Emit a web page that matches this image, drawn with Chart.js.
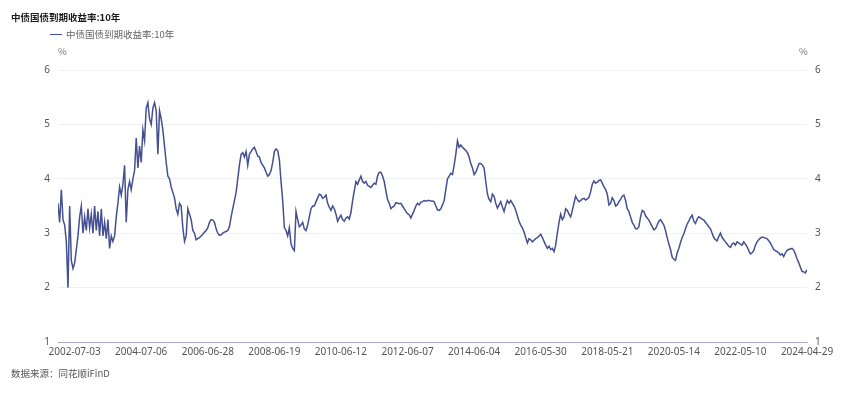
<!DOCTYPE html>
<html>
<head>
<meta charset="utf-8">
<script src="https://cdn.jsdelivr.net/npm/chart.js@4.4.1/dist/chart.umd.min.js"></script>
<style>
  html, body { margin: 0; padding: 0; background: #ffffff; }
  #wrap { position: relative; width: 865px; height: 393px; overflow: hidden; }
  #c { position: absolute; left: 0; top: 0; }
  .txt { position: absolute; white-space: nowrap; font-family: "Noto Sans CJK SC", "Noto Sans", sans-serif; line-height: 12px; }
  #title { left: 11px; top: 11px; font-size: 9.5px; font-weight: bold; color: #1a1a1a; }
  #legend { left: 50px; top: 28px; font-size: 9.5px; color: #666; }
  #legend .mk { display: inline-block; width: 12px; height: 0; border-top: 1.3px solid #44508f; vertical-align: middle; margin-right: 4px; position: relative; top: -1px; }
  #unitL { left: 58px; top: 45px; font-size: 9.5px; color: #777; }
  #unitR { left: 799px; top: 45px; font-size: 9.5px; color: #777; }
  #source { left: 11px; top: 367px; font-size: 9.5px; color: #555; }
</style>
</head>
<body>
<div id="wrap">
  <canvas id="c" width="865" height="393"></canvas>
  <div class="txt" id="title">中债国债到期收益率:10年</div>
  <div class="txt" id="legend"><span class="mk"></span>中债国债到期收益率:10年</div>
  <div class="txt" id="unitL">%</div>
  <div class="txt" id="unitR">%</div>
  <div class="txt" id="source">数据来源：同花顺iFinD</div>
</div>
<script>
// Tick dates shown on the x axis, and the sample index each one falls on
const tickLabels = ['2002-07-03','2004-07-06','2006-06-28','2008-06-19','2010-06-12','2012-06-07',
                    '2014-06-04','2016-05-30','2018-05-21','2020-05-14','2022-05-10','2024-04-29'];
const tickIndex = [10, 50, 90, 130, 170, 210, 250, 290, 330, 370, 410, 450];

// 10-year China government bond yield (%), evenly spaced samples
const yields = [
  3.55,3.20,3.80,3.25,3.15,2.85,2.00,3.50,2.50,2.35,
  2.45,2.70,2.95,3.30,3.50,3.00,3.30,3.05,3.45,3.10,
  3.35,3.00,3.50,3.05,3.40,2.95,3.45,2.95,3.20,2.90,
  3.25,2.72,2.95,2.85,2.95,3.30,3.55,3.85,3.70,3.90,
  4.25,3.20,3.80,3.95,3.80,4.00,4.15,4.75,4.20,4.60,
  4.30,4.90,4.70,5.30,5.40,5.10,5.00,5.30,5.40,5.25,
  4.45,5.25,5.10,4.90,4.60,4.30,4.05,4.00,3.85,3.75,
  3.65,3.45,3.35,3.55,3.50,3.10,2.85,2.95,3.45,3.35,
  3.25,3.05,3.00,2.88,2.90,2.92,2.95,2.98,3.02,3.05,
  3.10,3.20,3.25,3.24,3.20,3.08,3.00,2.96,2.97,3.00,
  3.02,3.03,3.05,3.12,3.30,3.45,3.60,3.75,4.00,4.25,
  4.45,4.48,4.40,4.50,4.25,4.45,4.50,4.55,4.58,4.50,
  4.42,4.40,4.30,4.25,4.20,4.12,4.05,4.08,4.15,4.30,
  4.50,4.55,4.52,4.35,3.95,3.60,3.10,3.05,2.95,3.10,
  2.80,2.72,2.68,3.40,3.25,3.12,3.15,3.20,3.08,3.05,
  3.15,3.30,3.45,3.50,3.50,3.58,3.65,3.72,3.70,3.64,
  3.66,3.70,3.55,3.48,3.42,3.50,3.45,3.35,3.22,3.28,
  3.33,3.25,3.22,3.28,3.30,3.26,3.38,3.60,3.78,3.95,
  3.90,3.98,4.05,3.95,3.92,3.95,3.88,3.86,3.84,3.88,
  3.92,3.90,4.05,4.12,4.12,4.05,3.95,3.78,3.62,3.55,
  3.45,3.48,3.50,3.56,3.55,3.54,3.55,3.50,3.45,3.40,
  3.36,3.34,3.28,3.35,3.42,3.50,3.55,3.52,3.57,3.58,
  3.60,3.59,3.60,3.60,3.59,3.59,3.58,3.50,3.43,3.42,
  3.45,3.52,3.60,3.80,4.00,4.05,4.10,4.08,4.25,4.45,
  4.70,4.58,4.62,4.58,4.55,4.52,4.48,4.40,4.28,4.20,
  4.08,4.12,4.20,4.28,4.28,4.25,4.20,3.95,3.72,3.62,
  3.58,3.72,3.68,3.55,3.46,3.52,3.58,3.48,3.40,3.52,
  3.60,3.55,3.60,3.55,3.50,3.42,3.32,3.22,3.15,3.10,
  3.02,2.92,2.82,2.90,2.88,2.84,2.87,2.90,2.92,2.95,
  2.98,2.92,2.85,2.78,2.72,2.76,2.70,2.72,2.66,2.78,
  3.00,3.20,3.35,3.25,3.30,3.45,3.42,3.35,3.30,3.42,
  3.55,3.68,3.62,3.58,3.60,3.63,3.64,3.61,3.63,3.66,
  3.76,3.90,3.96,3.92,3.94,3.97,3.98,3.92,3.85,3.80,
  3.72,3.52,3.55,3.65,3.60,3.50,3.52,3.58,3.62,3.68,
  3.70,3.60,3.45,3.40,3.30,3.20,3.15,3.08,3.08,3.12,
  3.30,3.42,3.40,3.32,3.28,3.24,3.18,3.12,3.06,3.08,
  3.15,3.22,3.25,3.20,3.15,3.05,2.92,2.80,2.70,2.56,
  2.52,2.50,2.64,2.72,2.83,2.92,2.99,3.08,3.17,3.22,
  3.29,3.33,3.22,3.18,3.26,3.30,3.28,3.26,3.24,3.20,
  3.16,3.12,3.08,3.00,2.92,2.88,2.86,2.94,3.00,2.92,
  2.88,2.84,2.80,2.76,2.74,2.80,2.82,2.78,2.84,2.82,
  2.80,2.78,2.84,2.80,2.75,2.68,2.62,2.64,2.68,2.78,
  2.84,2.88,2.91,2.93,2.92,2.91,2.90,2.86,2.82,2.76,
  2.70,2.68,2.66,2.64,2.60,2.62,2.57,2.64,2.68,2.70,
  2.71,2.72,2.69,2.62,2.53,2.46,2.38,2.30,2.29,2.27,
  2.33
];

const yMin = 1, yMax = 6;

const labelByIndex = {};
tickIndex.forEach((v, k) => { labelByIndex[v] = tickLabels[k]; });

const points = yields.map((v, i) => ({ x: i, y: v }));

const tickFont = { family: '"Noto Sans", "Noto Sans CJK SC", sans-serif', size: 10 };
const tickColor = '#555';

new Chart(document.getElementById('c'), {
  type: 'line',
  data: {
    datasets: [{
      label: '中债国债到期收益率:10年',
      data: points,
      borderColor: '#44508f',
      borderWidth: 1.5,
      pointRadius: 0,
      pointHoverRadius: 0,
      tension: 0,
      fill: false,
      yAxisID: 'y'
    }]
  },
  options: {
    responsive: false,
    animation: false,
    devicePixelRatio: 1,
    layout: { padding: { top: 70, bottom: 29, left: 0, right: 0 } },
    plugins: { legend: { display: false }, title: { display: false }, tooltip: { enabled: false } },
    scales: {
      x: {
        type: 'linear',
        min: 0,
        max: yields.length - 1,
        grid: { display: false, drawTicks: false },
        border: { display: true, color: '#a3abd1', width: 1 },
        afterBuildTicks: (scale) => { scale.ticks = tickIndex.map(v => ({ value: v })); },
        afterFit: (scale) => { scale.height = 22; },
        ticks: {
          autoSkip: false,
          maxRotation: 0,
          padding: 4,
          color: tickColor,
          font: tickFont,
          callback: (v) => labelByIndex[v] || ''
        }
      },
      y: {
        position: 'left',
        min: yMin, max: yMax,
        afterFit: (scale) => { scale.width = 58; },
        grid: { color: '#eef0f4', lineWidth: 1, drawTicks: false },
        border: { display: false },
        ticks: { stepSize: 1, padding: 8, color: tickColor, font: tickFont }
      },
      y2: {
        position: 'right',
        min: yMin, max: yMax,
        afterFit: (scale) => { scale.width = 58; },
        grid: { display: false, drawTicks: false },
        border: { display: false },
        ticks: { stepSize: 1, padding: 8, color: tickColor, font: tickFont }
      }
    }
  }
});
</script>
</body>
</html>
